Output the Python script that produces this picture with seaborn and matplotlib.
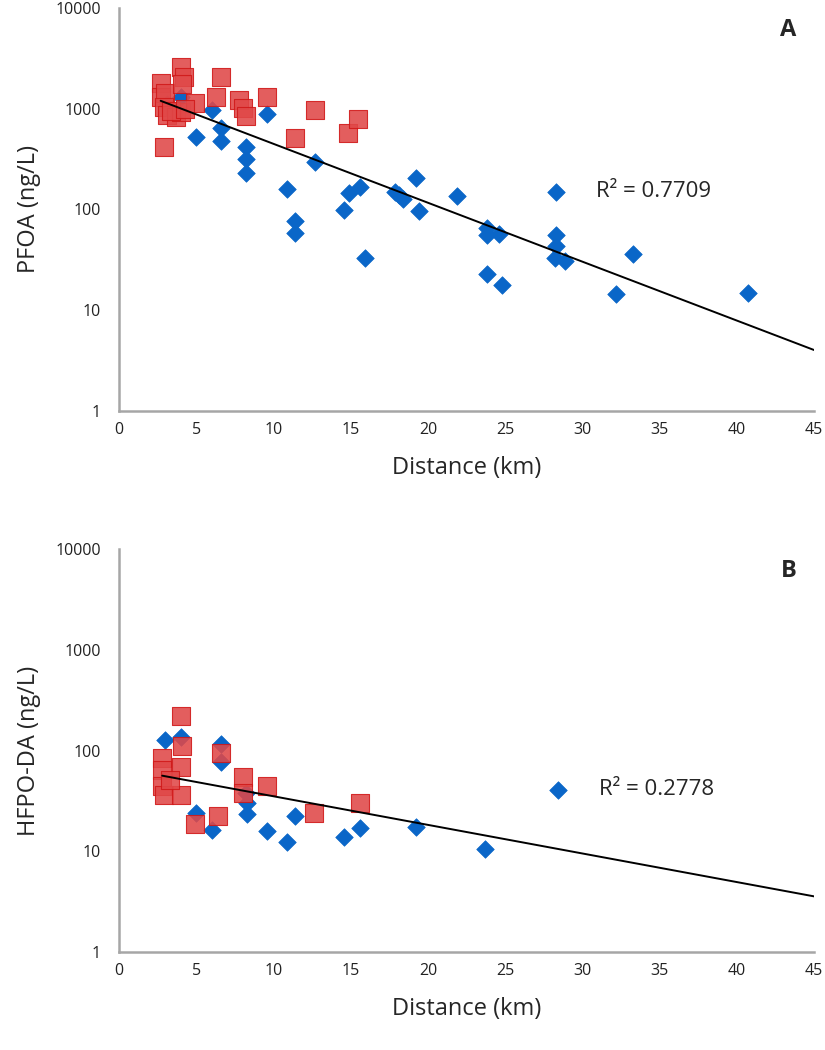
import numpy as np
import pandas as pd
import matplotlib
matplotlib.use('Agg')
import matplotlib.pyplot as plt
import matplotlib.ticker as mticker
import seaborn as sns

# Painel A - PFOA
pfoa_blue_km = [3.1, 4.0, 5.0, 6.0, 6.6, 6.6, 8.2, 8.2, 8.2, 9.6, 10.9, 11.4, 11.4, 12.7,
                14.6, 14.9, 15.6, 15.9, 17.9, 18.1, 18.4, 19.2, 19.4, 21.9, 23.8, 23.8,
                24.6, 23.8, 24.8, 28.3, 28.3, 28.3, 28.2, 28.9, 33.3, 32.2, 40.7]
pfoa_blue_val = [1110, 1300, 520, 980, 640, 480, 420, 320, 232, 880, 159, 76, 59, 296,
                 99, 147, 168, 33, 150, 140, 127, 204, 97, 136, 65, 56,
                 57, 23, 18, 150, 56, 43, 33, 31, 36, 14.4, 14.7]
pfoa_red_km = [2.7, 2.7, 3.0, 2.9, 3.1, 3.7, 4.0, 4.0, 4.2, 4.1, 4.9, 6.3, 6.6, 7.8,
               8.0, 8.2, 9.6, 2.9, 11.4, 12.7, 14.8, 15.5, 3.4, 4.3]
pfoa_red_val = [1790, 1300, 1420, 1050, 870, 830, 930, 2610, 2080, 1750, 1150, 1320, 2050, 1220,
                1020, 850, 1320, 420, 510, 970, 580, 790, 950, 1000]

# Painel B - HFPO-DA
hfpo_blue_km = [3.0, 4.0, 6.6, 6.6, 8.2, 8.3, 8.3, 5.0, 6.0, 9.6, 10.9, 11.4, 14.6,
                15.6, 19.2, 23.7, 28.4]
hfpo_blue_val = [127, 135, 116, 77, 38, 30, 23.4, 24, 16.3, 16, 12.4, 22.4, 14,
                 17, 17.5, 10.5, 41]
hfpo_red_km = [4.0, 4.1, 2.8, 4.0, 2.8, 2.8, 2.9, 4.0, 3.3, 6.6, 8.0, 8.0, 9.6, 6.4,
               4.9, 12.6, 15.6]
hfpo_red_val = [220, 111, 84, 68, 64, 44, 36, 36, 51, 95, 55, 38, 44, 22.4,
                18.6, 24, 30]

r2_labels = ['R\u00b2 = 0.7709', 'R\u00b2 = 0.2778']
panel_letters = ['A', 'B']
y_labels = ['PFOA (ng/L)', 'HFPO-DA (ng/L)']
x_label = 'Distance (km)'

sns.set_style('white')
plt.rcParams['font.family'] = ['Open Sans', 'DejaVu Sans']

BLUE = '#0A66C8'
RED = '#E04848'
RED_EDGE = '#D01818'
AXIS_GRAY = '#A6A6A6'


def draw_panel(ax, bkm, bval, rkm, rval, letter, ylab, r2, r2_pos):
    blue = pd.DataFrame({'km': bkm, 'val': bval})
    red = pd.DataFrame({'km': rkm, 'val': rval})
    sns.scatterplot(data=blue, x='km', y='val', marker='D', s=80, color=BLUE,
                    edgecolor=BLUE, linewidth=0.5, ax=ax, zorder=3)
    sns.scatterplot(data=red, x='km', y='val', marker='s', s=150, color=RED,
                    edgecolor=RED_EDGE, linewidth=0.8, alpha=0.88, ax=ax, zorder=4)

    # trendline exponencial ajustada a todos os pontos
    allpts = pd.concat([blue, red])
    slope, icpt = np.polyfit(allpts['km'], np.log10(allpts['val']), 1)
    xs = np.linspace(allpts['km'].min(), 45, 100)
    fit = pd.DataFrame({'km': xs, 'val': 10 ** (icpt + slope * xs)})
    sns.lineplot(data=fit, x='km', y='val', color='black', lw=1.4, ax=ax, zorder=5)

    ax.set_yscale('log')
    ax.set_ylim(1, 10000)
    ax.set_xlim(0, 45)
    ax.set_xticks(range(0, 46, 5))
    ax.xaxis.set_minor_locator(mticker.MultipleLocator(1))
    ax.yaxis.set_major_locator(mticker.LogLocator(base=10, numticks=10))
    ax.yaxis.set_major_formatter(mticker.FuncFormatter(lambda v, p: f'{v:g}'))
    ax.yaxis.set_minor_locator(mticker.LogLocator(base=10, subs=np.arange(2, 10), numticks=20))
    ax.yaxis.set_minor_formatter(mticker.NullFormatter())

    for side in ['top', 'right']:
        ax.spines[side].set_visible(False)
    for side in ['left', 'bottom']:
        ax.spines[side].set_color(AXIS_GRAY)
        ax.spines[side].set_linewidth(1.8)
    ax.tick_params(axis='both', which='major', direction='out', length=5, width=1,
                   color=AXIS_GRAY, labelsize=11.5, labelcolor='#222222')
    ax.tick_params(axis='both', which='minor', direction='out', length=3, width=0.8,
                   color='#C8C8C8')
    ax.tick_params(axis='x', which='major', pad=3)
    ax.tick_params(axis='y', which='major', pad=8)

    ax.set_xlabel(x_label, fontsize=17, labelpad=13)
    ax.set_ylabel(ylab, fontsize=17, labelpad=10)
    ax.text(0.975, 0.975, letter, transform=ax.transAxes, fontsize=17,
            fontweight='bold', ha='right', va='top')
    ax.text(r2_pos[0], r2_pos[1], r2, fontsize=16, ha='left', va='center')


fig = plt.figure(figsize=(8.25, 10.5), dpi=100)
ax_a = fig.add_axes([0.1442, 0.6086, 0.8425, 0.3838])
ax_b = fig.add_axes([0.1442, 0.0933, 0.8425, 0.3838])

draw_panel(ax_a, pfoa_blue_km, pfoa_blue_val, pfoa_red_km, pfoa_red_val,
           panel_letters[0], y_labels[0], r2_labels[0], (30.9, 150))
draw_panel(ax_b, hfpo_blue_km, hfpo_blue_val, hfpo_red_km, hfpo_red_val,
           panel_letters[1], y_labels[1], r2_labels[1], (31.1, 41))

fig.savefig('out.png', dpi=100)
